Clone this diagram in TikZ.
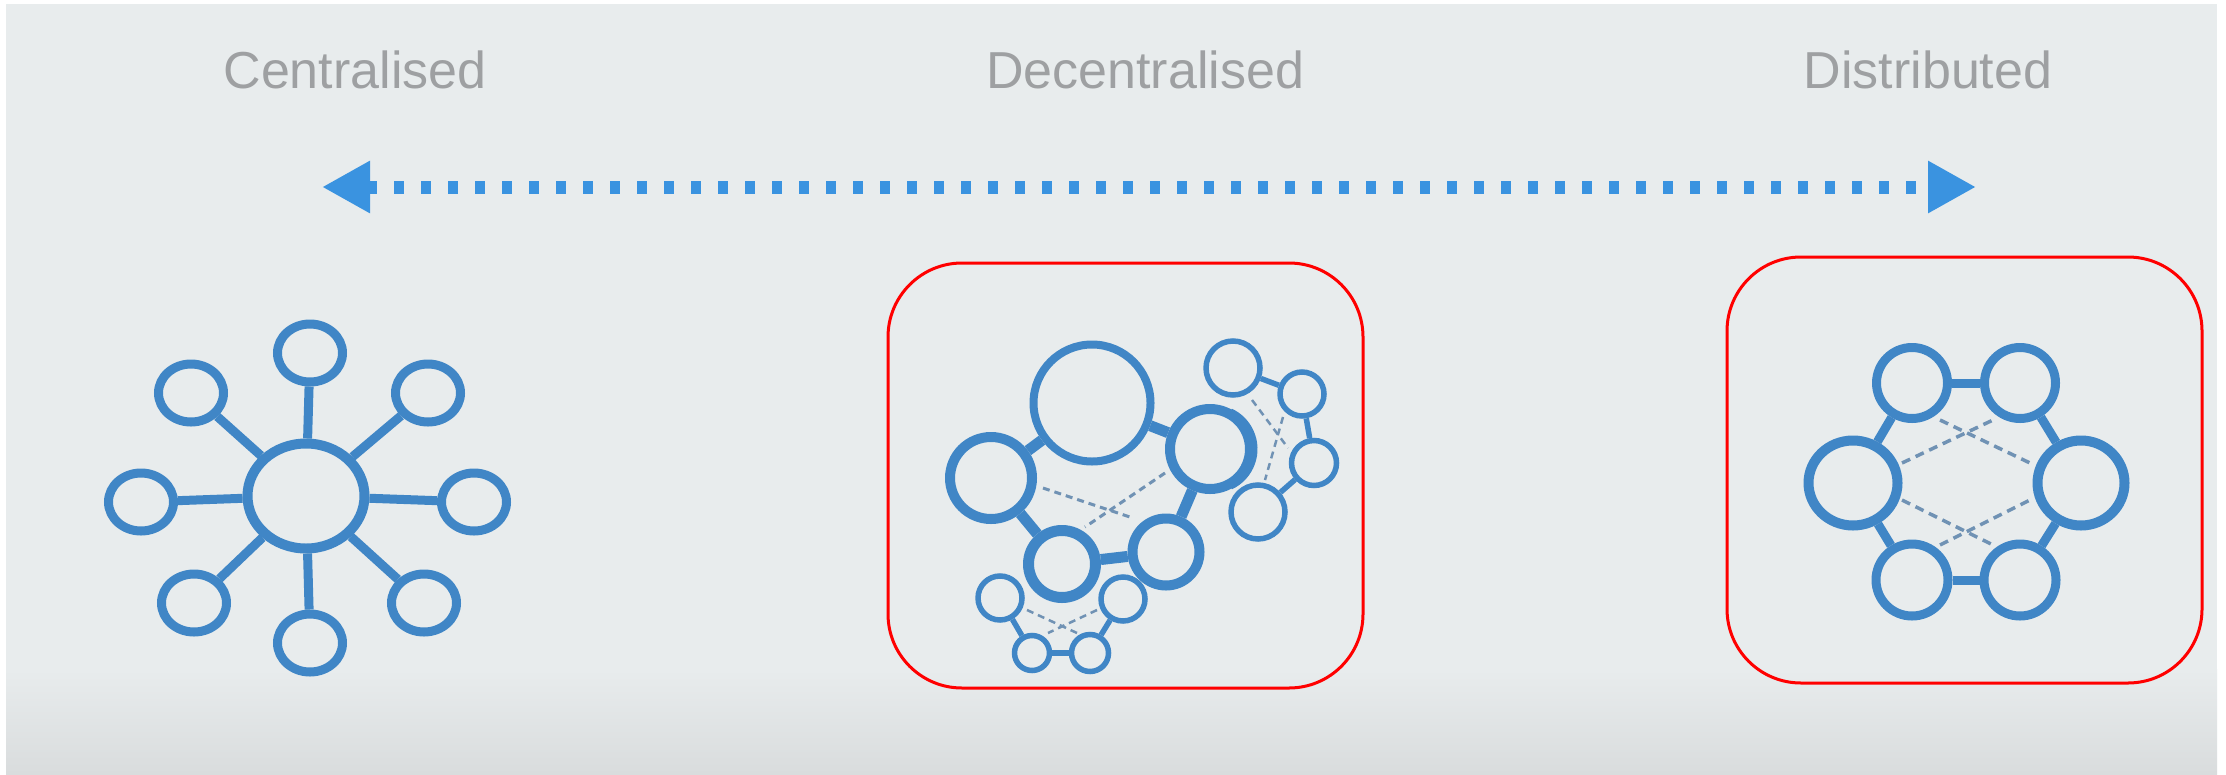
\documentclass[tikz,border=0pt]{standalone}
\usepackage{fontspec}
\setmainfont{Liberation Sans}
\usetikzlibrary{arrows.meta,shapes.geometric}
\definecolor{bgGray}{RGB}{232,236,237}
\definecolor{bgLow}{RGB}{217,220,221}
\definecolor{netBlue}{RGB}{64,134,198}
\definecolor{arrBlue}{RGB}{58,147,224}
\definecolor{dashBlue}{RGB}{112,146,180}
\definecolor{capGray}{RGB}{158,160,162}
\tikzset{
  caption/.style={anchor=base, text=capGray, font=\fontsize{52}{60}\selectfont},
  ring/.style={draw=netBlue, ellipse, inner sep=0pt, line width=#1},
  ring/.default=9pt,
  link/.style={draw=netBlue, line width=#1},
  link/.default=9pt,
  weak/.style={draw=dashBlue, line width=#1, dash pattern=on 7pt off 5pt},
  weak/.default=2.5pt,
  frame/.style={draw=red, line width=3pt, rounded corners=74pt},
}
\begin{document}
\begin{tikzpicture}[x=1pt,y=-1pt]
\useasboundingbox (0,0) rectangle (2226,774);
% canvas
\fill[white] (0,0) rectangle (2226,774);
\fill[bgGray] (6,4) rectangle (2217,670);
\shade[top color=bgGray, bottom color=bgLow] (6,669) rectangle (2217,774);

% headings
\node[caption] (tC) at (355,88) {Centralised};
\node[caption] (tD) at (1145,88) {Decentralised};
\node[caption] (tS) at (1928,88) {Distributed};

% scale arrow
\coordinate (aL) at (322,187);
\coordinate (aR) at (1976,187);
\draw[arrBlue, line width=13pt, dash pattern=on 10pt off 17pt,
  {Triangle[length=48pt,width=49pt]}-{Triangle[length=48pt,width=49pt]}] (aL) -- (aR);

% ---- centralised star
\node[ring=10pt, minimum width=117pt, minimum height=105pt] (hub) at (306,496) {};
\foreach \n/\x/\y in {n/310/353, nw/191/393, ne/428/393, w/141/502,
                      e/474/502, sw/194/603, s/310/643, se/424/603}{
  \node[ring=9pt, minimum width=65pt, minimum height=58pt] (c\n) at (\x,\y) {};
  \draw[link] (hub) -- (c\n);
}

% ---- decentralised
\draw[frame] (888,263) rectangle (1363,688);
\node[ring=8pt, minimum width=117pt, minimum height=117pt] (dBig) at (1092,403) {};
\node[ring=10pt, minimum width=82pt, minimum height=82pt] (dL) at (991,478) {};
\node[ring=10pt, minimum width=80pt, minimum height=80pt] (dR) at (1210,449) {};
\draw[netBlue, line width=7pt] (1213,449) ++(-65:41pt) arc[start angle=-65, end angle=65, radius=41pt];
\node[ring=11pt, minimum width=67pt, minimum height=67pt] (dM) at (1062,564) {};
\node[ring=10pt, minimum width=67pt, minimum height=67pt] (dB) at (1166,552) {};
\draw[link=11pt] (dL) -- (dBig);
\draw[link=11pt] (dBig) -- (dR);
\draw[link=11pt] (dL) -- (dM);
\draw[link=11pt] (dM) -- (dB);
\draw[link=11pt] (dB) -- (dR);
% right cluster
\node[ring=5.5pt, minimum width=54pt, minimum height=54pt] (r1) at (1233,368) {};
\node[ring=5.5pt, minimum width=44pt, minimum height=44pt] (r2) at (1302,394) {};
\node[ring=5.5pt, minimum width=45pt, minimum height=45pt] (r3) at (1314,463) {};
\node[ring=5.5pt, minimum width=54pt, minimum height=54pt] (r4) at (1258,512) {};
\draw[link=5.5pt] (r1) -- (r2);
\draw[link=5.5pt] (r2) -- (r3);
\draw[link=5.5pt] (r3) -- (r4);
% bottom cluster
\node[ring=5.5pt, minimum width=44pt, minimum height=44pt] (b1) at (1000,598) {};
\node[ring=5.5pt, minimum width=44pt, minimum height=44pt] (b2) at (1123,599) {};
\node[ring=5.5pt, minimum width=35pt, minimum height=35pt] (b3) at (1032,653) {};
\node[ring=5.5pt, minimum width=37pt, minimum height=37pt] (b4) at (1090,653) {};
\draw[link=5.5pt] (b1) -- (b3);
\draw[link=5.5pt] (b3) -- (b4);
\draw[link=5.5pt] (b4) -- (b2);
% weak ties
\coordinate (w1a) at (1043,488); \coordinate (w1b) at (1133,518);
\coordinate (w2a) at (1165,473); \coordinate (w2b) at (1085,527);
\draw[weak=3pt] (w1a) -- (w1b);
\draw[weak=3pt] (w2a) -- (w2b);
\coordinate (w3a) at (1252,400); \coordinate (w3b) at (1288,448);
\coordinate (w4a) at (1283,417); \coordinate (w4b) at (1265,480);
\draw[weak] (w3a) -- (w3b);
\draw[weak] (w4a) -- (w4b);
\coordinate (w5a) at (1027,610); \coordinate (w5b) at (1077,633);
\coordinate (w6a) at (1097,610); \coordinate (w6b) at (1048,633);
\draw[weak] (w5a) -- (w5b);
\draw[weak] (w6a) -- (w6b);

% ---- distributed ring
\draw[frame] (1727,257) rectangle (2202,683);
\node[ring, minimum width=71pt, minimum height=71pt] (pTL) at (1912,383) {};
\node[ring, minimum width=71pt, minimum height=71pt] (pTR) at (2020,383) {};
\node[ring=10pt, minimum width=89pt, minimum height=85pt] (pL) at (1853,483) {};
\node[ring=10pt, minimum width=87pt, minimum height=85pt] (pR) at (2081,483) {};
\node[ring, minimum width=72pt, minimum height=72pt] (pBL) at (1912,580) {};
\node[ring, minimum width=72pt, minimum height=72pt] (pBR) at (2020,580) {};
\draw[link] (pTL) -- (pTR);
\draw[link] (pTR) -- (pR);
\draw[link] (pR) -- (pBR);
\draw[link] (pBR) -- (pBL);
\draw[link] (pBL) -- (pL);
\draw[link] (pL) -- (pTL);
\coordinate (x1a) at (1902,463); \coordinate (x1b) at (1993,420);
\coordinate (x2a) at (1940,420); \coordinate (x2b) at (2030,463);
\coordinate (x3a) at (1902,500); \coordinate (x3b) at (1993,545);
\coordinate (x4a) at (1940,545); \coordinate (x4b) at (2030,500);
\draw[weak=3.5pt, dash pattern=on 9pt off 6pt] (x1a) -- (x1b);
\draw[weak=3.5pt, dash pattern=on 9pt off 6pt] (x2a) -- (x2b);
\draw[weak=3.5pt, dash pattern=on 9pt off 6pt] (x3a) -- (x3b);
\draw[weak=3.5pt, dash pattern=on 9pt off 6pt] (x4a) -- (x4b);
\end{tikzpicture}
\end{document}
